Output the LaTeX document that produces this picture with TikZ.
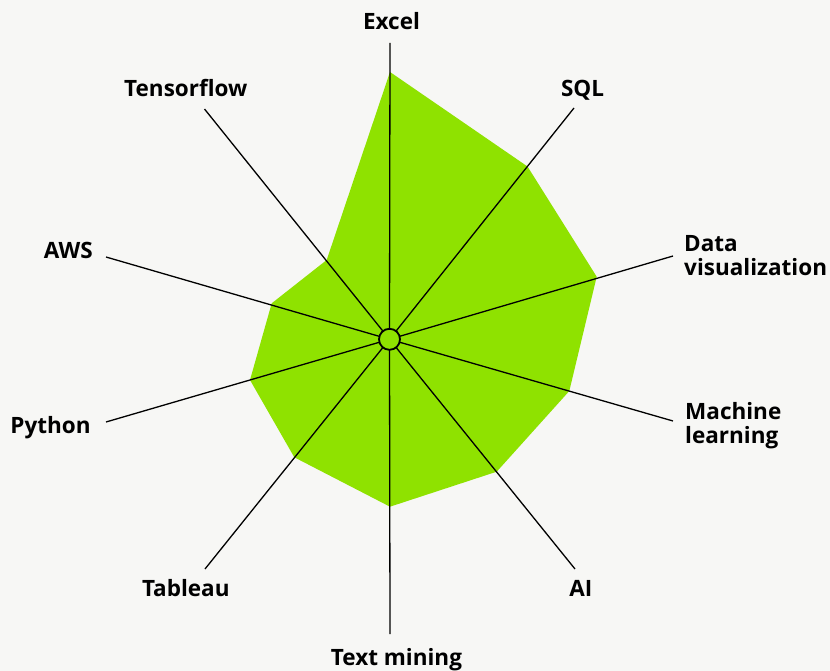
\documentclass[tikz,border=0pt]{standalone}
\usepackage{fontspec}
\setmainfont{Open Sans}
\begin{document}
\begin{tikzpicture}[x=1pt,y=-1pt,
  axisline/.style={line width=1.3pt, black},
  lbl/.style={font=\fontsize{22.5}{23.3}\selectfont\bfseries, inner sep=0pt, anchor=base},
  lblL/.style={lbl, anchor=base west, align=left},
  hub/.style={circle, draw=black, line width=1.8pt, fill=radargreen, minimum size=21pt, inner sep=0pt}]
\definecolor{radargreen}{HTML}{8FE200}
\definecolor{bgc}{HTML}{F7F7F5}
\fill[bgc] (0,0) rectangle (830,671);
\useasboundingbox (0,0) rectangle (830,671);

\coordinate (c) at (389.5,339.3);
% axis ends
\coordinate (eExcel) at (390,43);
\coordinate (eSQL) at (574,108);
\coordinate (eData) at (673,256);
\coordinate (eML) at (673,421);
\coordinate (eAI) at (575,569);
\coordinate (eText) at (390,634);
\coordinate (eTab) at (205,569);
\coordinate (ePy) at (106,422);
\coordinate (eAWS) at (106,257);
\coordinate (eTen) at (204.5,109);

% data polygon
\fill[radargreen] (390,72) -- (527.5,166.5) -- (596.7,276.7) -- (569.3,391) -- (496.7,471.7)
  -- (390,506.7) -- (294.3,457.3) -- (250,380) -- (271.7,303.3) -- (326.7,260) -- cycle;

\foreach \e in {eExcel,eSQL,eData,eML,eAI,eText,eTab,ePy,eAWS,eTen}
  \draw[axisline] (c) -- (\e);

\node[hub] (hub) at (c) {};

% labels
\node[lbl] (lExcel) at (391.5,29.3) {Excel};
\node[lbl] (lSQL) at (582.5,96.7) {SQL};
\node[lbl] (lTen) at (185.8,96.7) {Tensorflow};
\node[lbl] (lAWS) at (68.3,258.3) {AWS};
\node[lbl] (lPy) at (50.5,433.3) {Python};
\node[lbl] (lTab) at (185.8,596) {Tableau};
\node[lbl] (lAI) at (580.8,596) {AI};
\node[lbl] (lText) at (396.5,665) {Text mining};
\node[lblL] (lData) at (684,275) {Data\\visualization};
\node[lblL] (lML) at (685,443) {Machine\\learning};
\end{tikzpicture}
\end{document}
